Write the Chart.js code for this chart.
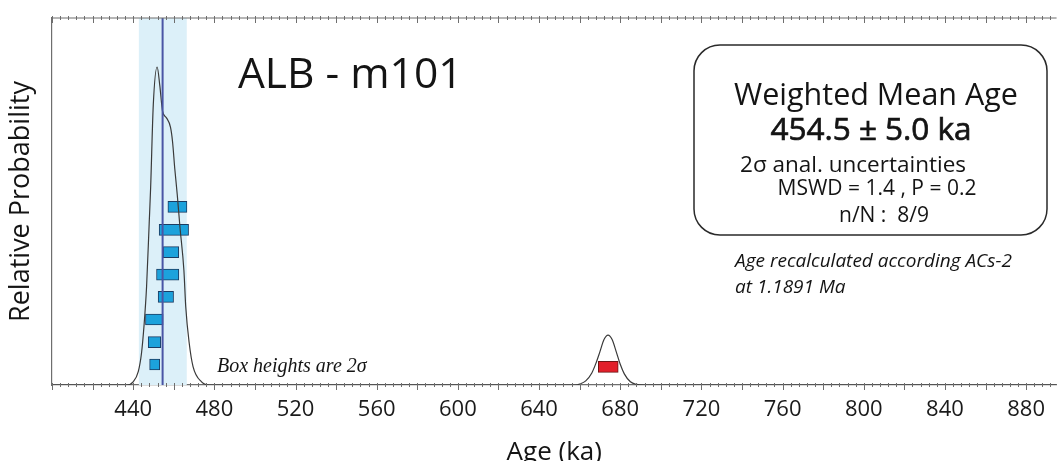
<!DOCTYPE html>
<html>
<head>
<meta charset="utf-8">
<script src="https://cdn.jsdelivr.net/npm/chart.js@4.4.1/dist/chart.umd.min.js"></script>
<style>
  html, body { margin: 0; padding: 0; background: #fff; }
  #wrap { width: 1057px; height: 461px; position: relative; }
</style>
</head>
<body>
<div id="wrap"><canvas id="chart"></canvas></div>
<script>
// probability curve (peak normalised to 1)
var probAges   = [400, 436.8, 440.0, 442.5, 444.1, 445.3, 446.6, 447.9, 448.6, 449.9, 451.8, 453.1, 454.5, 456.4, 458.4, 459.4, 460.5, 461.7, 463.0, 465.0, 465.9, 467.6, 469.5, 473.7, 477.8,
                  658, 660, 663, 666, 668, 670, 672, 674, 676, 678, 680, 682, 685, 688, 692, 895];
var probValues = [0, 0, 0.010, 0.042, 0.10, 0.183, 0.309, 0.51, 0.62, 0.88, 1.0, 0.943, 0.86, 0.84, 0.81, 0.765, 0.68, 0.60, 0.50, 0.36, 0.246, 0.132, 0.058, 0.010, 0,
                  0, 0.003, 0.013, 0.038, 0.068, 0.105, 0.143, 0.157, 0.143, 0.105, 0.065, 0.035, 0.010, 0.002, 0, 0];

// single grain ages (ka) and 2 sigma errors, bottom box first
var grainAges   = [450.6, 450.5, 450.4, 456.1, 457.0, 458.6, 460.05, 461.8];
var grainErrors = [2.5, 3.1, 4.35, 3.8, 5.5, 3.85, 7.25, 4.7];
var grainLevels = [0.0645, 0.135, 0.206, 0.277, 0.347, 0.418, 0.488, 0.56];

// rejected grain
var rejectedAges   = [674.1];
var rejectedErrors = [4.9];
var rejectedLevels = [0.057];

// weighted mean and the shaded band
var meanAge = 454.5;
var bandLow = 442.8;
var bandHigh = 466.4;

var xTickLabels = [440, 480, 520, 560, 600, 640, 680, 720, 760, 800, 840, 880];
var xMin = 400, xMax = 895;
var yMax = 1.154;

var boxData = [];
var boxColors = [];
var boxBorders = [];
for (var i = 0; i < grainAges.length; i++) {
    boxData.push({ x: [grainAges[i] - grainErrors[i], grainAges[i] + grainErrors[i]], y: grainLevels[i] });
    boxColors.push('#1ca2dc');
    boxBorders.push('#1b3c63');
}
for (var j = 0; j < rejectedAges.length; j++) {
    boxData.push({ x: [rejectedAges[j] - rejectedErrors[j], rejectedAges[j] + rejectedErrors[j]], y: rejectedLevels[j] });
    boxColors.push('#e21f2a');
    boxBorders.push('#6e1515');
}

var curveData = probAges.map(function (a, k) { return { x: a, y: probValues[k] }; });

// light blue band behind everything
var bandPlugin = {
    id: 'band',
    beforeDatasetsDraw: function (chart) {
        var ctx = chart.ctx, area = chart.chartArea, x = chart.scales.x;
        var x0 = x.getPixelForValue(bandLow), x1 = x.getPixelForValue(bandHigh);
        ctx.save();
        ctx.fillStyle = '#dcf0f9';
        ctx.fillRect(x0, area.top, x1 - x0, area.bottom - area.top);
        ctx.restore();
    }
};

// top axis line and the minor/major tick marks on both axes
var tickPlugin = {
    id: 'ticks',
    afterDraw: function (chart) {
        var ctx = chart.ctx, area = chart.chartArea, x = chart.scales.x;
        ctx.save();
        ctx.strokeStyle = '#6e6e6e';
        ctx.lineWidth = 1.2;
        ctx.beginPath();
        ctx.moveTo(area.left, area.top);
        ctx.lineTo(area.right, area.top);
        ctx.stroke();
        ctx.lineWidth = 1;
        ctx.beginPath();
        for (var v = xMin; v <= xMax; v += 4) {
            var px = Math.round(x.getPixelForValue(v)) + 0.5;
            var major = v % 20 === 0;
            ctx.moveTo(px, area.bottom - 2);
            ctx.lineTo(px, area.bottom + (major ? 5 : 2));
            ctx.moveTo(px, area.top - 2);
            ctx.lineTo(px, area.top + (major ? 5 : 2));
        }
        ctx.stroke();
        ctx.restore();
    }
};

function roundRect(ctx, x, y, w, h, r) {
    ctx.beginPath();
    ctx.moveTo(x + r, y);
    ctx.lineTo(x + w - r, y);
    ctx.arcTo(x + w, y, x + w, y + r, r);
    ctx.lineTo(x + w, y + h - r);
    ctx.arcTo(x + w, y + h, x + w - r, y + h, r);
    ctx.lineTo(x + r, y + h);
    ctx.arcTo(x, y + h, x, y + h - r, r);
    ctx.lineTo(x, y + r);
    ctx.arcTo(x, y, x + r, y, r);
    ctx.closePath();
}

var textPlugin = {
    id: 'texts',
    afterDraw: function (chart) {
        var ctx = chart.ctx;
        ctx.save();
        ctx.fillStyle = '#141414';
        ctx.textBaseline = 'alphabetic';

        ctx.textAlign = 'left';
        ctx.font = '42.5px "Open Sans"';
        ctx.fillText('ALB - m101', 238, 88);

        ctx.strokeStyle = '#2a2a2a';
        ctx.lineWidth = 1.5;
        roundRect(ctx, 694, 45, 353, 190, 26);
        ctx.stroke();

        ctx.textAlign = 'center';
        ctx.font = '30.5px "Open Sans"';
        ctx.fillText('Weighted Mean Age', 876, 105);
        // medium weight look for the age line
        ctx.font = '31.5px "Open Sans"';
        ctx.strokeStyle = '#141414';
        ctx.lineWidth = 0.7;
        ctx.fillText('454.5 \u00b1 5.0 ka', 871, 140);
        ctx.strokeText('454.5 \u00b1 5.0 ka', 871, 140);
        ctx.font = '22.5px "Open Sans"';
        ctx.fillText('2\u03c3 anal. uncertainties', 853, 172);
        ctx.font = '21px "Open Sans"';
        ctx.fillText('MSWD = 1.4 , P = 0.2', 877, 195);
        ctx.font = '21px "Open Sans"';
        ctx.fillText('n/N :  8/9', 884, 222);

        ctx.textAlign = 'left';
        ctx.font = 'italic 19px "Open Sans"';
        ctx.fillText('Age recalculated according ACs-2', 735, 267);
        ctx.fillText('at 1.1891 Ma', 735, 293);

        ctx.font = 'italic 20px "Liberation Serif"';
        ctx.fillText('Box heights are 2\u03c3', 217, 372);
        ctx.restore();
    }
};

new Chart(document.getElementById('chart'), {
    type: 'line',
    data: {
        datasets: [
            {
                label: 'mean',
                data: [{ x: meanAge, y: 0 }, { x: meanAge, y: yMax }],
                borderColor: '#4a55a5',
                borderWidth: 2,
                pointRadius: 0,
                order: 0
            },
            {
                label: 'probability',
                data: curveData,
                borderColor: '#3a3a3a',
                borderWidth: 1.2,
                pointRadius: 0,
                cubicInterpolationMode: 'monotone',
                fill: false,
                order: 1
            },
            {
                type: 'bar',
                label: 'grains',
                indexAxis: 'y',
                data: boxData,
                backgroundColor: boxColors,
                borderColor: boxBorders,
                borderWidth: 1,
                borderSkipped: false,
                barThickness: 11,
                order: 2
            }
        ]
    },
    options: {
        responsive: true,
        maintainAspectRatio: false,
        animation: false,
        layout: { padding: { top: 18, right: 0, left: 0, bottom: 0 } },
        plugins: { legend: { display: false }, tooltip: { enabled: false } },
        scales: {
            x: {
                type: 'linear',
                min: xMin,
                max: xMax,
                offset: false,
                afterBuildTicks: function (scale) {
                    scale.ticks = xTickLabels.map(function (v) { return { value: v }; });
                },
                afterFit: function (scale) { scale.height = 76; },
                grid: { display: true, drawOnChartArea: false, drawTicks: false, offset: false },
                border: { display: true, color: '#6e6e6e', width: 1.2 },
                ticks: {
                    padding: 12,
                    color: '#1a1a1a',
                    font: { family: 'Open Sans', size: 22 },
                    maxRotation: 0,
                    autoSkip: false,
                    callback: function (v) { return v; }
                },
                title: {
                    display: true,
                    text: 'Age (ka)',
                    color: '#141414',
                    font: { family: 'Open Sans', size: 26 },
                    padding: { top: 0, bottom: -7 }
                }
            },
            y: {
                type: 'linear',
                min: 0,
                max: yMax,
                offset: false,
                afterFit: function (scale) { scale.width = 52; },
                grid: { display: false, offset: false },
                border: { display: true, color: '#6e6e6e', width: 1.2 },
                ticks: { display: false },
                title: {
                    display: true,
                    text: 'Relative Probability',
                    color: '#141414',
                    font: { family: 'Open Sans', size: 27 },
                    padding: { top: 5, bottom: 0 }
                }
            }
        }
    },
    plugins: [bandPlugin, tickPlugin, textPlugin]
});
</script>
</body>
</html>
